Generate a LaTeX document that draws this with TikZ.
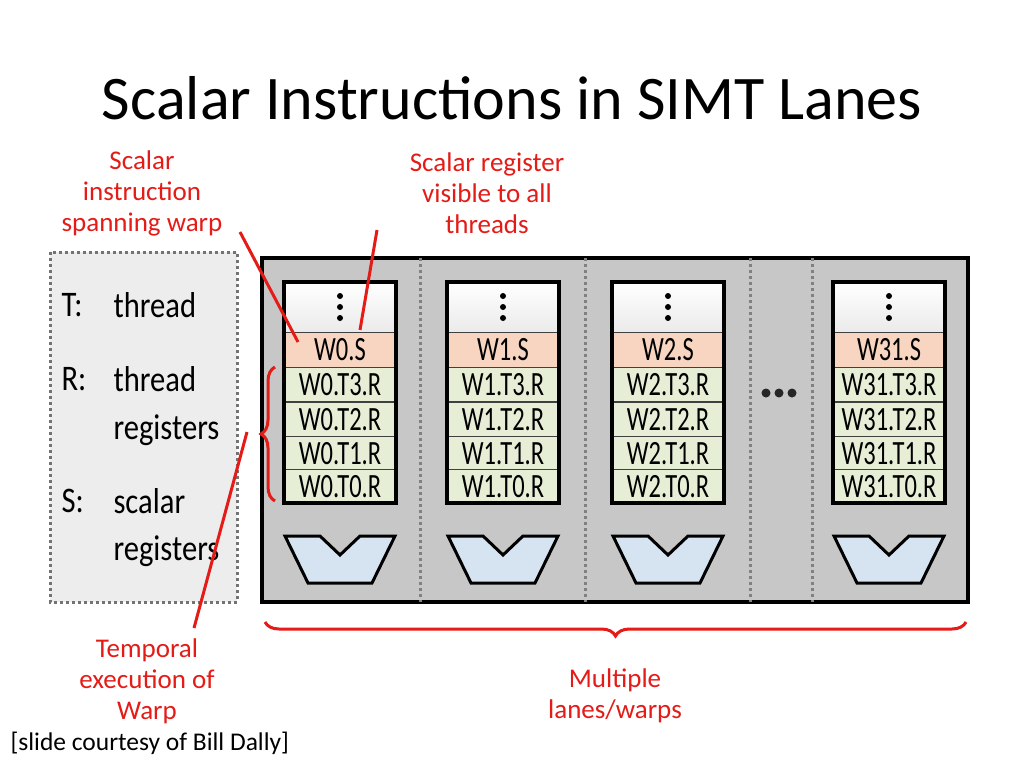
\documentclass[tikz,border=0pt]{standalone}
\usepackage{fontspec}
\setmainfont{Carlito}
\usetikzlibrary{decorations.pathreplacing}
\definecolor{sred}{HTML}{E41B17}
\definecolor{sorange}{HTML}{F8D5C0}
\definecolor{sgreen}{HTML}{E6EED6}
\definecolor{sblue}{HTML}{D6E4F2}
\tikzset{
 lbl/.style={text=sred,font=\fontsize{27}{31}\selectfont,align=center},
 leg/.style={font=\fontsize{36}{36}\selectfont,anchor=west},
 cell/.style={draw=black!75,line width=1pt,minimum width=110,minimum height=34,inner sep=0,font=\fontsize{34}{34}\selectfont},
 redl/.style={sred,line width=3pt},
 sep/.style={gray,dashed,line width=3pt}
}
\newcommand{\ctxt}[1]{\scalebox{0.72}[1]{#1}}
\newcommand{\ltxt}[1]{\scalebox{0.85}[1]{#1}}
\begin{document}
\begin{tikzpicture}[x=1pt,y=-1pt]
\useasboundingbox (0,0) rectangle (1024,768);
\fill[white] (0,0) rectangle (1024,768);
\node[font=\fontsize{62}{62}\selectfont] (title) at (512,98) {Scalar Instructions in SIMT Lanes};
% legend
\draw[black!55,dashed,line width=3pt,fill=black!7] (50,252) rectangle (237,602);
\node[leg] (lt) at (58,305) {\ltxt{T:}}; \node[leg] (lt2) at (110,305) {\ltxt{thread}};
\node[leg] (lr) at (58,379) {\ltxt{R:}}; \node[leg] (lr2) at (110,379) {\ltxt{thread}};
\node[leg] (lr3) at (110,430) {\ltxt{registers}};
\node[leg] (ls) at (58,501) {\ltxt{S:}}; \node[leg] (ls2) at (110,501) {\ltxt{scalar}};
\node[leg] (ls3) at (110,551) {\ltxt{registers}};
% outer
\draw[black,line width=4pt,fill=black!22] (262,258) rectangle (968,602);
\foreach \x in {420,585,750,812} \draw[sep] (\x,258) -- (\x,602);
\foreach \xx in {766,779,792} \fill[black!85] (\xx,393) circle (4.5pt);
% lanes
\foreach \cx/\w in {340/0,503/1,668/2,889/31}{
 \begin{scope}[shift={(\cx,0)}]
 \shade[top color=white,bottom color=black!8] (-56,282) rectangle (56,332);
 \foreach \yy in {296,307,318} \fill (0,\yy) circle (3pt);
 \node[cell,fill=sorange,minimum height=35] (s\w) at (0,349.5) {\ctxt{W\w.S}};
 \node[cell,fill=sgreen] (r3\w) at (0,384.5) {\ctxt{W\w.T3.R}};
 \node[cell,fill=sgreen] (r2\w) at (0,419.5) {\ctxt{W\w.T2.R}};
 \node[cell,fill=sgreen] (r1\w) at (0,453.5) {\ctxt{W\w.T1.R}};
 \node[cell,fill=sgreen] (r0\w) at (0,486.5) {\ctxt{W\w.T0.R}};
 \draw[black,line width=4pt] (-56,282) rectangle (56,503);
 \draw[black,line width=3pt,fill=sblue,line join=miter] (-55,536) -- (-20,536) -- (0,555) -- (20,536) -- (55,536) -- (32,583) -- (-32,583) -- cycle;
 \end{scope}}
% labels
\node[lbl] (l1) at (142,193) {Scalar\\instruction\\spanning warp};
\node[lbl] (l2) at (487,193) {Scalar register\\visible to all\\threads};
\node[lbl] (l3) at (147,681) {Temporal\\execution of\\Warp};
\node[lbl] (l4) at (615,696) {Multiple\\lanes/warps};
\node[font=\fontsize{25.5}{25.5}\selectfont,anchor=west] (cred) at (7,743) {[slide courtesy of Bill Dally]};
% red connectors
\coordinate (a1) at (240,232); \coordinate (a2) at (298,342);
\coordinate (b1) at (377,230); \coordinate (b2) at (360,330);
\coordinate (c1) at (247,432); \coordinate (c2) at (194,628);
\draw[redl] (a1) -- (a2);
\draw[redl] (b1) -- (b2);
\draw[redl] (c1) -- (c2);
\draw[redl,decorate,decoration={brace,amplitude=14pt,aspect=0.5}] (275,501) -- (275,367);
\draw[redl,decorate,decoration={brace,amplitude=14pt,mirror}] (265,622) -- (966,622);
\end{tikzpicture}
\end{document}
